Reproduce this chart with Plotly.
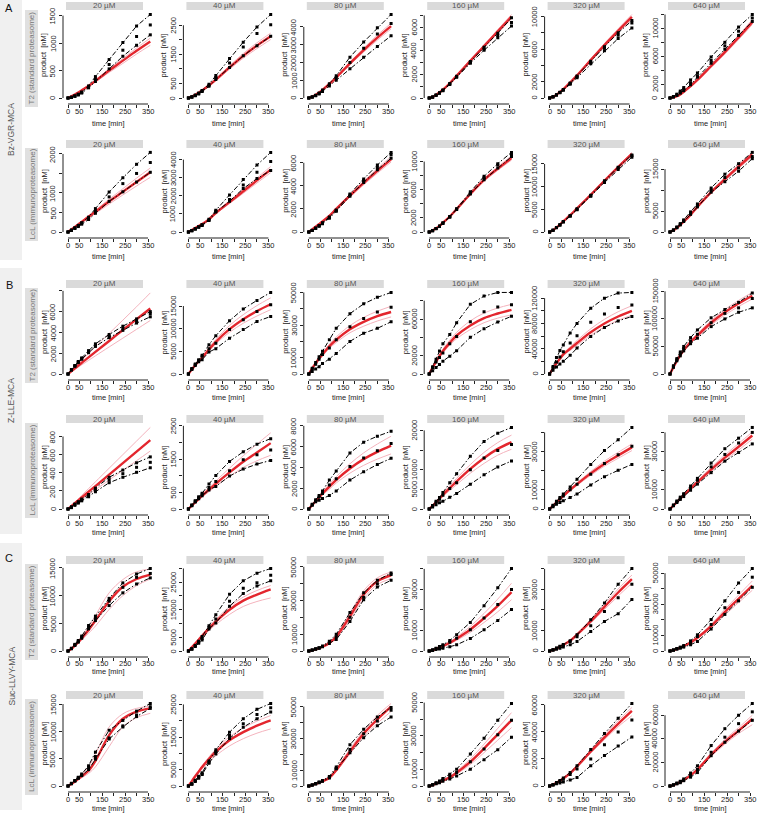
import plotly.graph_objects as go

W, H = 760, 818
TIME = [0, 15, 30, 45, 60, 90, 120, 180, 240, 300, 360]
CONC = ["20 µM", "40 µM", "80 µM", "160 µM", "320 µM", "640 µM"]
X_TICKS = [0, 50, 100, 150, 200, 250, 300, 350]
X_TICKTEXT = ["0", "50", "", "150", "", "250", "", "350"]
SUBSTRATES = ["Bz-VGR-MCA", "Z-LLE-MCA", "Suc-LLVY-MCA"]
LETTERS = ["A", "B", "C"]
CELL_LINES = ["T2 (standard proteasome)", "LcL (immunoproteasome)"]

# ---------------- A: Bz-VGR-MCA, T2 ----------------
A1_upper = [[0, 15, 40, 70, 110, 220, 390, 700, 1010, 1310, 1520],
            [0, 40, 100, 170, 260, 470, 770, 1355, 1920, 2440, 2870],
            [0, 60, 160, 280, 450, 800, 1250, 2300, 3150, 3950, 4700],
            [0, 80, 250, 450, 680, 1220, 1850, 3100, 4300, 5500, 6800],
            [0, 150, 400, 700, 1050, 1850, 2700, 4500, 6300, 8000, 9500],
            [0, 200, 550, 1000, 1500, 2600, 3600, 5900, 8000, 10200, 12000]]
A1_mean = [[0, 12, 35, 62, 100, 200, 340, 610, 870, 1120, 1330],
           [0, 35, 90, 155, 240, 430, 700, 1200, 1750, 2220, 2520],
           [0, 55, 145, 255, 410, 740, 1150, 2000, 2800, 3600, 4200],
           [0, 75, 240, 430, 650, 1180, 1800, 3000, 4150, 5300, 6400],
           [0, 140, 380, 670, 1000, 1780, 2600, 4350, 6100, 7700, 9200],
           [0, 170, 450, 850, 1250, 2200, 3200, 5400, 7500, 9600, 11500]]
A1_lower = [[0, 10, 30, 55, 90, 185, 300, 530, 760, 960, 1150],
            [0, 30, 80, 140, 220, 400, 640, 1050, 1450, 1800, 2120],
            [0, 50, 130, 230, 370, 680, 1000, 1650, 2300, 2900, 3500],
            [0, 70, 230, 410, 620, 1150, 1750, 2950, 4050, 5100, 6100],
            [0, 130, 360, 640, 950, 1700, 2500, 4200, 5800, 7300, 8600],
            [0, 140, 380, 700, 1050, 1900, 3000, 5000, 7000, 9000, 11000]]
A1_fit = [[0, 30, 65, 100, 140, 220, 310, 500, 680, 860, 1030],
          [0, 45, 110, 180, 260, 430, 630, 1050, 1450, 1800, 2120],
          [0, 70, 180, 310, 460, 790, 1150, 1950, 2700, 3400, 4050],
          [0, 90, 260, 460, 700, 1250, 1880, 3150, 4400, 5650, 6900],
          [0, 140, 400, 720, 1070, 1900, 2780, 4650, 6500, 8250, 9950],
          [0, 80, 250, 500, 900, 1700, 2600, 4600, 6600, 8700, 10900]]
A1_fit_hi = [[0, 32, 70, 107, 150, 235, 330, 530, 720, 910, 1090],
             [0, 50, 118, 192, 278, 460, 670, 1110, 1530, 1900, 2230],
             [0, 75, 190, 325, 480, 825, 1200, 2030, 2810, 3540, 4210],
             [0, 95, 270, 480, 725, 1290, 1940, 3240, 4520, 5800, 7080],
             [0, 150, 420, 750, 1110, 1960, 2870, 4790, 6700, 8500, 10250],
             [0, 90, 270, 530, 950, 1780, 2720, 4780, 6850, 9000, 11250]]
A1_fit_lo = [[0, 28, 60, 93, 130, 205, 290, 465, 630, 800, 960],
             [0, 42, 102, 168, 244, 405, 595, 990, 1370, 1700, 2010],
             [0, 65, 170, 295, 440, 755, 1100, 1870, 2590, 3260, 3890],
             [0, 85, 250, 440, 675, 1210, 1820, 3060, 4280, 5500, 6720],
             [0, 130, 380, 690, 1030, 1840, 2690, 4510, 6300, 8000, 9650],
             [0, 70, 230, 470, 850, 1620, 2480, 4420, 6350, 8400, 10550]]
A1_yticks = [[0, 500, 1000, 1500],
             [0, 500, 1000, 1500, 2000, 2500],
             [0, 1000, 2000, 3000, 4000],
             [0, 1000, 2000, 3000, 4000, 5000, 6000, 7000],
             [0, 2000, 4000, 6000, 8000, 10000],
             [0, 2000, 4000, 6000, 8000, 10000, 12000]]
A1_ylabels = [["0", "500", "1000", "1500"],
              ["0", "500", "", "1500", "", "2500"],
              ["0", "1000", "2000", "3000", "4000"],
              ["0", "", "2000", "", "4000", "", "6000", ""],
              ["0", "2000", "", "6000", "", "10000"],
              ["0", "2000", "", "6000", "", "10000", ""]]

# ---------------- A: Bz-VGR-MCA, LcL ----------------
A2_upper = [[0, 50, 110, 170, 240, 380, 600, 1025, 1390, 1735, 2040],
            [0, 80, 180, 290, 400, 700, 1200, 2050, 2900, 3700, 4400],
            [0, 150, 350, 560, 800, 1300, 1900, 3300, 4600, 5800, 6900],
            [0, 200, 500, 850, 1300, 2200, 3300, 5700, 7900, 9700, 11300],
            [0, 400, 1000, 1600, 2300, 3600, 5100, 8100, 11300, 14300, 17000],
            [0, 500, 1200, 2000, 2900, 4800, 6700, 10500, 13800, 16300, 19000]]
A2_mean = [[0, 45, 100, 155, 220, 350, 530, 900, 1240, 1500, 1780],
           [0, 75, 170, 275, 380, 670, 1150, 1800, 2600, 3300, 3900],
           [0, 140, 330, 530, 760, 1250, 1850, 3200, 4450, 5600, 6700],
           [0, 190, 480, 820, 1250, 2150, 3250, 5500, 7700, 9500, 11000],
           [0, 380, 970, 1560, 2250, 3550, 5000, 8000, 11100, 14100, 16800],
           [0, 450, 1100, 1850, 2700, 4500, 6300, 10000, 13000, 15300, 18000]]
A2_lower = [[0, 40, 90, 140, 200, 320, 480, 785, 1030, 1280, 1530],
            [0, 70, 160, 260, 360, 640, 1100, 1700, 2400, 2950, 3400],
            [0, 130, 310, 500, 720, 1200, 1800, 3100, 4300, 5400, 6400],
            [0, 180, 460, 790, 1200, 2100, 3200, 5400, 7400, 9100, 10700],
            [0, 360, 940, 1520, 2200, 3500, 4900, 7900, 10900, 13800, 16500],
            [0, 400, 1000, 1700, 2500, 4200, 6000, 9500, 12000, 14500, 17500]]
A2_fit = [[0, 65, 130, 195, 260, 390, 520, 780, 1030, 1280, 1530],
          [0, 110, 220, 330, 440, 700, 1050, 1650, 2250, 2850, 3450],
          [0, 230, 460, 690, 920, 1400, 2000, 3150, 4250, 5300, 6300],
          [0, 220, 520, 870, 1300, 2200, 3250, 5400, 7400, 9000, 10500],
          [0, 400, 1000, 1650, 2350, 3700, 5200, 8200, 11300, 14300, 17200],
          [0, 400, 1000, 1700, 2450, 4100, 6000, 9500, 12600, 15600, 18500]]
A2_fit_hi = [[0, 70, 140, 210, 280, 420, 560, 840, 1110, 1380, 1640],
             [0, 115, 230, 345, 460, 730, 1100, 1730, 2360, 2990, 3620],
             [0, 240, 480, 720, 960, 1460, 2080, 3270, 4410, 5500, 6540],
             [0, 230, 540, 900, 1340, 2260, 3340, 5540, 7600, 9250, 10800],
             [0, 410, 1020, 1690, 2400, 3780, 5310, 8370, 11530, 14600, 17550],
             [0, 410, 1030, 1750, 2520, 4220, 6170, 9770, 12950, 16030, 19000]]
A2_fit_lo = [[0, 60, 120, 180, 240, 355, 475, 715, 950, 1180, 1400],
             [0, 105, 210, 315, 420, 670, 1000, 1570, 2140, 2710, 3280],
             [0, 220, 440, 660, 880, 1340, 1920, 3030, 4090, 5100, 6060],
             [0, 210, 500, 840, 1260, 2140, 3160, 5260, 7200, 8750, 10200],
             [0, 390, 980, 1610, 2300, 3620, 5090, 8030, 11070, 14000, 16850],
             [0, 390, 970, 1650, 2380, 3980, 5830, 9230, 12250, 15170, 18000]]
A2_yticks = [[0, 500, 1000, 1500, 2000],
             [0, 1000, 2000, 3000, 4000],
             [0, 2000, 4000, 6000],
             [0, 2000, 4000, 6000, 8000, 10000],
             [0, 5000, 10000, 15000],
             [0, 5000, 10000, 15000]]
A2_ylabels = [["0", "500", "1000", "", "2000"],
              ["0", "1000", "2000", "3000", "4000"],
              ["0", "2000", "4000", "6000"],
              ["0", "2000", "", "6000", "", "10000"],
              ["0", "5000", "10000", "15000"],
              ["0", "5000", "", "15000"]]

# ---------------- B: Z-LLE-MCA, T2 ----------------
B1_upper = [[0, 420, 820, 1200, 1550, 2250, 2900, 3800, 4600, 5300, 6000],
            [0, 1200, 2200, 3160, 4120, 6470, 8460, 11760, 14340, 16250, 18000],
            [0, 3500, 7000, 10500, 14000, 21000, 28000, 37000, 43000, 47000, 50000],
            [0, 8000, 16000, 25000, 33000, 43000, 56000, 76000, 85000, 89000, 89000],
            [0, 12000, 26000, 37000, 46000, 65000, 80000, 104000, 120000, 128000, 129000],
            [0, 15000, 28000, 40000, 50000, 66000, 80000, 102000, 117000, 130000, 147000]]
B1_mean = [[0, 400, 780, 1150, 1480, 2150, 2780, 3650, 4400, 5100, 5800],
           [0, 1100, 2100, 3000, 3900, 5600, 6800, 9800, 12000, 13800, 15300],
           [0, 3000, 6000, 9000, 12000, 16000, 21000, 29000, 34000, 38000, 41000],
           [0, 7000, 13000, 18000, 23000, 33000, 41000, 57000, 68000, 73000, 75600],
           [0, 10000, 19000, 27000, 35000, 49000, 60500, 82000, 95000, 105000, 109000],
           [0, 13500, 26000, 36500, 46000, 60000, 72000, 93000, 110000, 120000, 137000]]
B1_lower = [[0, 380, 740, 1100, 1420, 2050, 2650, 3500, 4200, 4900, 5500],
            [0, 1000, 1900, 2700, 3160, 4850, 5600, 7900, 9800, 11600, 12700],
            [0, 1500, 3000, 4500, 6500, 9000, 12500, 20000, 25000, 28000, 32000],
            [0, 3500, 7000, 10500, 14000, 19500, 25500, 40000, 49500, 56700, 63000],
            [0, 6000, 11000, 16000, 20000, 29500, 41000, 59500, 73700, 84000, 91000],
            [0, 12000, 24000, 33000, 42000, 55000, 65000, 86000, 100000, 112000, 120000]]
B1_fit = [[0, 270, 540, 810, 1080, 1600, 2130, 3180, 4230, 5270, 6300],
          [0, 1000, 1950, 2800, 3600, 5400, 7100, 9900, 12100, 13900, 15400],
          [0, 3500, 6500, 9500, 12000, 17000, 21000, 27500, 32000, 35500, 38000],
          [0, 7000, 13500, 19500, 25000, 34000, 42000, 53000, 61000, 66000, 70000],
          [0, 9000, 17000, 24000, 31000, 40000, 49000, 66000, 80000, 91000, 100000],
          [0, 12500, 24000, 34000, 43000, 58000, 70000, 93000, 112000, 128000, 142000]]
B1_fit_hi = [[0, 330, 660, 990, 1320, 1970, 2620, 3900, 5180, 6470, 7800],
             [0, 1050, 2050, 3000, 3850, 5800, 7600, 10700, 13100, 15100, 16800],
             [0, 3700, 7000, 10200, 13000, 18300, 22700, 29700, 34700, 38500, 41500],
             [0, 7500, 14500, 21000, 27000, 37000, 45500, 58000, 66500, 72000, 76000],
             [0, 9500, 18000, 25500, 33000, 43000, 53000, 71500, 86500, 98500, 108000],
             [0, 13000, 25000, 35500, 45000, 60500, 73000, 97000, 117000, 133500, 148000]]
B1_fit_lo = [[0, 220, 440, 660, 880, 1310, 1750, 2600, 3450, 4300, 5150],
             [0, 950, 1850, 2650, 3400, 5050, 6650, 9200, 11200, 12800, 14200],
             [0, 3300, 6100, 8800, 11000, 15700, 19300, 25300, 29300, 32500, 35000],
             [0, 6500, 12500, 18000, 23000, 31500, 38500, 48500, 56000, 61000, 64500],
             [0, 8500, 16000, 22500, 29000, 37500, 45500, 61500, 74500, 85000, 93000],
             [0, 12000, 23000, 32500, 41000, 55500, 67000, 89000, 107000, 122500, 136000]]
B1_yticks = [[0, 2000, 4000, 6000, 8000],
             [0, 5000, 10000, 15000],
             [0, 10000, 20000, 30000, 40000, 50000],
             [0, 20000, 40000, 60000, 80000],
             [0, 20000, 40000, 60000, 80000, 100000, 120000],
             [0, 50000, 100000, 150000]]
B1_ylabels = [["0", "2000", "4000", "6000", ""],
              ["0", "5000", "10000", "15000"],
              ["0", "10000", "", "30000", "", "50000"],
              ["0", "20000", "", "60000", ""],
              ["0", "", "40000", "", "80000", "", "120000"],
              ["0", "50000", "100000", "150000"]]

# ---------------- B: Z-LLE-MCA, LcL ----------------
B2_upper = [[0, 25, 55, 80, 110, 160, 230, 350, 430, 510, 575],
            [0, 120, 250, 370, 470, 750, 1010, 1430, 1720, 1950, 2115],
            [0, 450, 900, 1300, 1740, 2780, 3650, 5390, 6430, 7000, 7480],
            [0, 900, 2000, 2900, 4200, 6700, 9000, 13400, 17200, 19300, 20750],
            [0, 2000, 4000, 6000, 7800, 11500, 15500, 23300, 30500, 36200, 42600],
            [0, 2100, 4200, 6200, 8000, 12000, 16000, 24000, 31500, 37000, 42600]]
B2_mean = [[0, 20, 50, 75, 100, 150, 210, 320, 390, 460, 515],
           [0, 110, 230, 340, 440, 650, 830, 1150, 1480, 1630, 1770],
           [0, 400, 800, 1150, 1500, 2300, 2900, 4100, 4900, 5600, 6300],
           [0, 800, 1700, 2500, 3500, 5200, 6700, 10000, 13000, 14900, 16400],
           [0, 1700, 3500, 5200, 6800, 10000, 12900, 18100, 23800, 28400, 32800],
           [0, 1900, 3800, 5700, 7500, 11000, 15000, 22000, 28500, 34500, 40000]]
B2_lower = [[0, 15, 40, 65, 90, 135, 190, 290, 350, 405, 455],
            [0, 100, 210, 310, 400, 570, 680, 990, 1200, 1350, 1460],
            [0, 350, 700, 850, 1000, 1300, 1740, 2780, 3580, 4280, 4870],
            [0, 500, 1100, 1600, 2000, 3000, 3950, 6300, 8700, 10700, 12200],
            [0, 1200, 2500, 3400, 4300, 6000, 7800, 12600, 16900, 20200, 23300],
            [0, 1700, 3400, 5000, 6500, 9800, 13000, 19000, 25000, 29500, 34000]]
B2_fit = [[0, 32, 63, 95, 127, 190, 253, 380, 507, 633, 760],
          [0, 100, 200, 300, 400, 580, 760, 1100, 1420, 1700, 1980],
          [0, 380, 750, 1120, 1500, 2150, 2800, 3900, 4800, 5500, 6100],
          [0, 800, 1700, 2600, 3600, 5300, 7000, 10200, 13000, 15300, 17000],
          [0, 1700, 3500, 5200, 6800, 10000, 13000, 18600, 23700, 28000, 32200],
          [0, 1800, 3600, 5400, 7200, 10600, 14000, 20600, 26800, 32500, 38400]]
B2_fit_hi = [[0, 37, 75, 112, 150, 225, 300, 450, 600, 750, 900],
             [0, 110, 220, 330, 440, 640, 840, 1230, 1600, 1950, 2290],
             [0, 420, 830, 1240, 1660, 2400, 3100, 4350, 5400, 6250, 7000],
             [0, 900, 1900, 2900, 4000, 5900, 7800, 11300, 14400, 16900, 18800],
             [0, 1800, 3700, 5500, 7200, 10600, 13700, 19600, 25000, 29600, 34000],
             [0, 1900, 3800, 5700, 7600, 11200, 14800, 21700, 28200, 34200, 40200]]
B2_fit_lo = [[0, 27, 53, 80, 107, 160, 213, 320, 427, 533, 640],
             [0, 90, 180, 270, 360, 520, 680, 980, 1250, 1450, 1615],
             [0, 340, 670, 1000, 1340, 1900, 2500, 3450, 4200, 4800, 5300],
             [0, 700, 1500, 2300, 3200, 4700, 6200, 9100, 11600, 13700, 15200],
             [0, 1600, 3300, 4900, 6400, 9400, 12300, 17600, 22400, 26500, 30500],
             [0, 1700, 3400, 5100, 6800, 10000, 13200, 19500, 25400, 30800, 36500]]
B2_yticks = [[0, 200, 400, 600, 800],
             [0, 500, 1000, 1500, 2000, 2500],
             [0, 2000, 4000, 6000, 8000],
             [0, 5000, 10000, 15000, 20000],
             [0, 10000, 20000, 30000, 40000],
             [0, 10000, 20000, 30000, 40000]]
B2_ylabels = [["0", "200", "400", "600", "800"],
              ["0", "500", "", "1500", "", "2500"],
              ["0", "2000", "4000", "6000", "8000"],
              ["0", "5000", "10000", "", "20000"],
              ["0", "10000", "", "30000", ""],
              ["0", "10000", "", "30000", ""]]

# ---------------- C: Suc-LLVY-MCA, T2 ----------------
C1_upper = [[0, 500, 1200, 1900, 2700, 4600, 6300, 9500, 12300, 13900, 14900],
            [0, 800, 2000, 3500, 5300, 9200, 13200, 20600, 25500, 28300, 30000],
            [0, 600, 1300, 2000, 3000, 5800, 9900, 22800, 34600, 42000, 46300],
            [0, 600, 1400, 2200, 3000, 5100, 7900, 13900, 22100, 30800, 40200],
            [0, 600, 1500, 2300, 3200, 5000, 7900, 15200, 23400, 32500, 40200],
            [0, 700, 1600, 2500, 3500, 6500, 10400, 20200, 32200, 43700, 53000]]
C1_mean = [[0, 450, 1100, 1750, 2500, 4300, 5900, 9000, 11500, 13300, 14000],
           [0, 700, 1800, 3200, 4500, 8500, 11600, 18100, 22800, 24800, 27500],
           [0, 550, 1200, 1800, 2700, 5200, 8500, 20000, 32000, 40000, 45500],
           [0, 500, 1200, 1900, 2600, 4300, 6200, 10300, 16100, 22600, 30000],
           [0, 550, 1350, 2100, 2900, 4600, 7000, 12300, 19300, 25900, 32500],
           [0, 600, 1400, 2200, 3000, 5500, 9300, 17000, 27800, 37600, 47400]]
C1_lower = [[0, 400, 1000, 1600, 2300, 4000, 5500, 8200, 10500, 12100, 13200],
            [0, 600, 1600, 2800, 4000, 8000, 10200, 16300, 20900, 23600, 25500],
            [0, 500, 1100, 1600, 2500, 4500, 6800, 17500, 30500, 38000, 42000],
            [0, 300, 700, 1000, 1400, 2100, 3000, 6100, 10300, 14900, 20200],
            [0, 400, 900, 1400, 2000, 3000, 4600, 9500, 14400, 18200, 25100],
            [0, 500, 1200, 1800, 2500, 4000, 6100, 14100, 23500, 32200, 40900]]
C1_fit = [[0, 400, 1000, 1600, 2300, 3800, 5500, 9000, 11600, 13000, 13800],
          [0, 1300, 2700, 4100, 5500, 8200, 10700, 15000, 18300, 20500, 22400],
          [0, 500, 1000, 1700, 2500, 4800, 8500, 20500, 33500, 41500, 45000],
          [0, 400, 1000, 1700, 2400, 4000, 6000, 10500, 16000, 22000, 28700],
          [0, 500, 1200, 2000, 3000, 5000, 8000, 14500, 21500, 28500, 35000],
          [0, 500, 1300, 2200, 3200, 5500, 8500, 16000, 25000, 33500, 42000]]
C1_fit_hi = [[0, 450, 1100, 1800, 2600, 4400, 6400, 10500, 12900, 14300, 14800],
             [0, 1400, 2900, 4400, 5900, 8800, 11500, 16100, 19600, 22000, 23800],
             [0, 550, 1100, 1850, 2750, 5300, 9400, 22500, 35800, 43500, 47000],
             [0, 450, 1100, 1900, 2700, 4500, 6800, 12000, 18300, 25300, 33000],
             [0, 530, 1280, 2130, 3200, 5300, 8500, 15400, 22800, 30200, 37000],
             [0, 550, 1400, 2350, 3400, 5900, 9100, 17100, 26800, 35900, 45000]]
C1_fit_lo = [[0, 350, 900, 1400, 2000, 3200, 4500, 7500, 10000, 11800, 13000],
             [0, 1200, 2500, 3800, 5000, 7400, 9600, 13300, 16200, 18000, 19300],
             [0, 450, 900, 1550, 2250, 4300, 7600, 18500, 31200, 39500, 43000],
             [0, 350, 900, 1500, 2100, 3500, 5200, 9100, 13900, 19100, 25000],
             [0, 470, 1120, 1870, 2800, 4700, 7500, 13600, 20200, 26800, 33000],
             [0, 450, 1200, 2050, 3000, 5100, 7900, 14900, 23200, 31100, 39000]]
C1_yticks = [[0, 5000, 10000, 15000],
             [0, 5000, 10000, 15000, 20000, 25000, 30000],
             [0, 10000, 20000, 30000, 40000, 50000],
             [0, 10000, 20000, 30000, 40000],
             [0, 10000, 20000, 30000, 40000],
             [0, 10000, 20000, 30000, 40000, 50000]]
C1_ylabels = [["0", "5000", "10000", "15000"],
              ["0", "5000", "", "15000", "", "25000", ""],
              ["0", "10000", "", "30000", "", "50000"],
              ["0", "10000", "", "30000", ""],
              ["0", "10000", "", "30000", ""],
              ["0", "10000", "", "30000", "", "50000"]]

# ---------------- C: Suc-LLVY-MCA, LcL ----------------
C2_upper = [[0, 500, 1000, 1600, 2200, 3700, 6200, 10200, 12000, 13700, 15100],
            [0, 700, 1800, 3000, 4100, 7700, 11100, 16500, 20600, 23500, 25300],
            [0, 700, 1500, 2500, 3500, 6000, 12000, 26000, 35800, 43500, 49500],
            [0, 800, 2000, 3000, 4500, 7000, 10100, 19200, 28700, 39400, 49500],
            [0, 1000, 2500, 4000, 6000, 10000, 15000, 27000, 38800, 50000, 61000],
            [0, 1000, 2500, 4000, 6000, 11000, 17100, 34300, 48600, 60000, 70000]]
C2_mean = [[0, 450, 950, 1500, 2000, 3400, 5400, 8800, 11000, 13000, 14500],
           [0, 600, 1600, 2700, 3700, 7200, 10500, 15500, 19100, 21900, 24000],
           [0, 650, 1400, 2300, 3200, 5500, 11000, 23000, 33000, 41000, 47800],
           [0, 700, 1700, 2600, 3800, 5800, 8100, 14500, 22200, 30700, 39400],
           [0, 900, 2200, 3500, 5000, 8500, 12500, 20000, 30500, 40000, 48800],
           [0, 900, 2200, 3500, 5000, 9000, 14000, 28600, 41400, 52900, 62900]]
C2_lower = [[0, 400, 900, 1400, 1900, 3000, 4900, 8600, 10800, 12700, 14200],
            [0, 500, 1400, 2400, 3500, 7000, 9800, 14600, 18000, 20600, 22700],
            [0, 600, 1300, 2100, 3000, 5000, 10900, 21000, 30400, 38000, 43500],
            [0, 600, 1300, 2000, 2800, 4200, 6000, 10100, 15800, 21800, 29300],
            [0, 700, 1600, 2300, 3000, 4500, 6300, 15000, 22500, 29500, 36200],
            [0, 800, 1800, 2800, 4500, 7500, 11400, 25700, 37100, 46600, 55700]]
C2_fit = [[0, 350, 800, 1300, 1800, 2800, 4600, 9300, 12300, 13600, 14200],
          [0, 1500, 3000, 4400, 5800, 8300, 10500, 14000, 16500, 18500, 20100],
          [0, 600, 1300, 2100, 3000, 5200, 10000, 21700, 33000, 42000, 50000],
          [0, 600, 1400, 2200, 3200, 5200, 8000, 14500, 22500, 31000, 39400],
          [0, 1000, 2300, 3800, 5500, 9500, 14500, 25500, 36000, 46000, 55500],
          [0, 800, 2000, 3300, 5000, 9000, 14000, 26500, 37500, 47000, 57000]]
C2_fit_hi = [[0, 400, 900, 1500, 2100, 3500, 5800, 10800, 13200, 14200, 14600],
             [0, 1600, 3200, 4700, 6200, 8900, 11300, 15100, 17800, 19900, 21600],
             [0, 650, 1400, 2250, 3250, 5600, 10800, 23200, 35000, 44500, 52000],
             [0, 680, 1580, 2480, 3600, 5800, 8900, 16200, 25100, 34600, 44000],
             [0, 1050, 2420, 4000, 5800, 10000, 15200, 26700, 37700, 48200, 58000],
             [0, 850, 2100, 3500, 5300, 9500, 14800, 28000, 39500, 49500, 60000]]
C2_fit_lo = [[0, 300, 700, 1100, 1500, 2300, 3500, 7200, 10800, 12500, 13300],
             [0, 1350, 2700, 4000, 5200, 7400, 9300, 12300, 14500, 16200, 17500],
             [0, 550, 1200, 1950, 2750, 4800, 9200, 20200, 31000, 39500, 47000],
             [0, 520, 1220, 1920, 2800, 4600, 7100, 12900, 20000, 27500, 35000],
             [0, 950, 2180, 3600, 5200, 9000, 13800, 24300, 34300, 43800, 52000],
             [0, 750, 1900, 3100, 4700, 8500, 13200, 25000, 35500, 44500, 52000]]
C2_yticks = [[0, 5000, 10000, 15000],
             [0, 5000, 10000, 15000, 20000, 25000],
             [0, 10000, 20000, 30000, 40000, 50000],
             [0, 10000, 20000, 30000, 40000, 50000],
             [0, 20000, 40000, 60000],
             [0, 20000, 40000, 60000]]
C2_ylabels = [["0", "5000", "10000", "15000"],
              ["0", "5000", "", "15000", "", "25000"],
              ["0", "10000", "", "30000", "", "50000"],
              ["0", "10000", "", "30000", "", "50000"],
              ["0", "20000", "40000", "60000"],
              ["0", "20000", "40000", "60000"]]

ROWS = [
    (A1_upper, A1_mean, A1_lower, A1_fit, A1_fit_hi, A1_fit_lo, A1_yticks, A1_ylabels),
    (A2_upper, A2_mean, A2_lower, A2_fit, A2_fit_hi, A2_fit_lo, A2_yticks, A2_ylabels),
    (B1_upper, B1_mean, B1_lower, B1_fit, B1_fit_hi, B1_fit_lo, B1_yticks, B1_ylabels),
    (B2_upper, B2_mean, B2_lower, B2_fit, B2_fit_hi, B2_fit_lo, B2_yticks, B2_ylabels),
    (C1_upper, C1_mean, C1_lower, C1_fit, C1_fit_hi, C1_fit_lo, C1_yticks, C1_ylabels),
    (C2_upper, C2_mean, C2_lower, C2_fit, C2_fit_hi, C2_fit_lo, C2_yticks, C2_ylabels),
]

# ---------------- layout geometry (pixels) ----------------
COL_X0 = [68 + 120.4 * k for k in range(6)]
ROW_TOP = [12, 150, 290, 425, 566, 701]
ROW_BOT = [104, 238, 380, 515, 657, 792]
XLAB_OFF = [7, 8, 7, 8, 6, 7]
XTITLE_OFF = [19, 18, 17, 17, 14.5, 16]
SECTION_BANDS = [(0, 260), (268, 534), (543, 810)]
LETTER_Y = [8, 285, 558]

FONT = "Liberation Sans, Arial, Helvetica, sans-serif"
RED = "#e3262e"
PINK = "#f4b3bd"
TXT = dict(size=7.5, color="#222", family=FONT)


def fx(px):
    return px / W


def fy(py):
    return 1 - py / H


fig = go.Figure()
shapes = []
annotations = []
layout_axes = {}

for r in range(6):
    upper, mean, lower, fit, fhi, flo, yticks, ylabels = ROWS[r]
    top, bot = ROW_TOP[r], ROW_BOT[r]
    h = bot - top
    for c in range(6):
        n = r * 6 + c + 1
        s = "" if n == 1 else str(n)
        xa, ya = "x" + s, "y" + s
        x0 = COL_X0[c]

        series = [upper[c], mean[c], lower[c], fit[c], fhi[c], flo[c]]
        M = max(max(v) for v in series)
        ytop = max(M * 1.03, yticks[c][-1] * 1.01)
        u = ytop / (h - 6)
        ybot = -6 * u

        layout_axes["xaxis" + s] = dict(
            domain=[fx(x0 - 5), fx(x0 + 85)], anchor=ya,
            range=[-5 * 350 / 80, 85 * 350 / 80],
            tickvals=X_TICKS, showticklabels=False,
            ticks="outside", ticklen=3, tickwidth=1, tickcolor="#222",
            showline=False, showgrid=False, zeroline=False, automargin=False,
            fixedrange=True)
        layout_axes["yaxis" + s] = dict(
            domain=[fy(bot), fy(top)], anchor=xa,
            range=[ybot, ytop],
            tickvals=yticks[c], showticklabels=False,
            ticks="outside", ticklen=3, tickwidth=1, tickcolor="#222",
            showline=False, showgrid=False, zeroline=False, automargin=False,
            fixedrange=True)

        # model fit band lines
        for v in (fhi[c], flo[c]):
            fig.add_trace(go.Scatter(x=TIME, y=v, xaxis=xa, yaxis=ya, mode="lines",
                                     line=dict(color=PINK, width=1, shape="spline"),
                                     hoverinfo="skip", showlegend=False))
        fig.add_trace(go.Scatter(x=TIME, y=fit[c], xaxis=xa, yaxis=ya, mode="lines",
                                 line=dict(color=RED, width=2.4, shape="spline"),
                                 hoverinfo="skip", showlegend=False))
        # measured data
        for v in (upper[c], lower[c]):
            fig.add_trace(go.Scatter(x=TIME, y=v, xaxis=xa, yaxis=ya, mode="lines+markers",
                                     line=dict(color="black", width=1, dash="5px,2px,1.5px,2px"),
                                     marker=dict(symbol="square", size=3, color="black"),
                                     hoverinfo="skip", showlegend=False))
        fig.add_trace(go.Scatter(x=TIME, y=mean[c], xaxis=xa, yaxis=ya, mode="markers",
                                 marker=dict(symbol="square", size=3, color="black"),
                                 hoverinfo="skip", showlegend=False))

        # axis lines (R style, from first to last tick)
        shapes.append(dict(type="line", xref=xa + " domain", yref=ya, x0=0, x1=0,
                           y0=yticks[c][0], y1=yticks[c][-1], line=dict(color="#222", width=1)))
        shapes.append(dict(type="line", xref=xa, yref=ya + " domain", x0=0, x1=350,
                           y0=0, y1=0, line=dict(color="#222", width=1)))
        # tick labels
        for v, t in zip(X_TICKS, X_TICKTEXT):
            if t:
                annotations.append(dict(text=t, xref=xa, yref=ya + " domain", x=v, y=0,
                                        yshift=-XLAB_OFF[r], showarrow=False,
                                        xanchor="center", yanchor="middle", font=TXT))
        for v, t in zip(yticks[c], ylabels[c]):
            if t:
                annotations.append(dict(text=t, xref=xa + " domain", yref=ya, x=0, y=v,
                                        xshift=-10, textangle=-90, showarrow=False,
                                        xanchor="center", yanchor="middle", font=TXT))
        # strip
        shapes.append(dict(type="rect", xref="paper", yref="paper",
                           x0=fx(x0 - 2), x1=fx(x0 + 75), y0=fy(top - 2), y1=fy(top - 10),
                           fillcolor="#dadada", line=dict(width=0), layer="below"))
        annotations.append(dict(text=CONC[c], xref="paper", yref="paper",
                                x=fx(x0 + 36.5), y=fy(top - 6), showarrow=False,
                                xanchor="center", yanchor="middle",
                                font=dict(size=8, color="#555", family=FONT)))
        # axis titles
        annotations.append(dict(text="product  [nM]", xref="paper", yref="paper",
                                x=fx(x0 - 24), y=fy((top + bot) / 2 - 3), showarrow=False,
                                textangle=-90, xanchor="center", yanchor="middle", font=TXT))
        annotations.append(dict(text="time [min]", xref="paper", yref="paper",
                                x=fx(x0 + 40), y=fy(bot + XTITLE_OFF[r]), showarrow=False,
                                xanchor="center", yanchor="middle", font=TXT))

    # inner cell line strip
    shapes.append(dict(type="rect", xref="paper", yref="paper",
                       x0=fx(25), x1=fx(38), y0=fy(bot + 3), y1=fy(top - 2),
                       fillcolor="#e0e0e0", line=dict(width=0), layer="below"))
    annotations.append(dict(text=CELL_LINES[r % 2], xref="paper", yref="paper",
                            x=fx(31.5), y=fy((top + bot) / 2), showarrow=False,
                            textangle=-90, xanchor="center", yanchor="middle",
                            font=dict(size=8, color="#777", family=FONT)))

for i, (b0, b1) in enumerate(SECTION_BANDS):
    shapes.insert(0, dict(type="rect", xref="paper", yref="paper",
                          x0=0, x1=fx(22), y0=fy(b1), y1=fy(b0),
                          fillcolor="#f0f0f0", line=dict(width=0), layer="below"))
    annotations.append(dict(text=SUBSTRATES[i], xref="paper", yref="paper",
                            x=fx(11), y=fy((b0 + b1) / 2), showarrow=False,
                            textangle=-90, xanchor="center", yanchor="middle",
                            font=dict(size=8.5, color="#555", family=FONT)))
    annotations.append(dict(text=LETTERS[i], xref="paper", yref="paper",
                            x=fx(9), y=fy(LETTER_Y[i]), showarrow=False,
                            xanchor="center", yanchor="middle",
                            font=dict(size=11, color="#111", family=FONT)))

fig.update_layout(**layout_axes)
fig.update_layout(width=W, height=H, autosize=False,
                  margin=dict(l=0, r=0, t=0, b=0, pad=0, autoexpand=False),
                  paper_bgcolor="white", plot_bgcolor="white",
                  showlegend=False, shapes=shapes, annotations=annotations,
                  font=dict(family=FONT))
fig.write_html("out.html", config={"displayModeBar": False},
               post_script="document.body.style.margin='0px';document.body.style.padding='0px';")
